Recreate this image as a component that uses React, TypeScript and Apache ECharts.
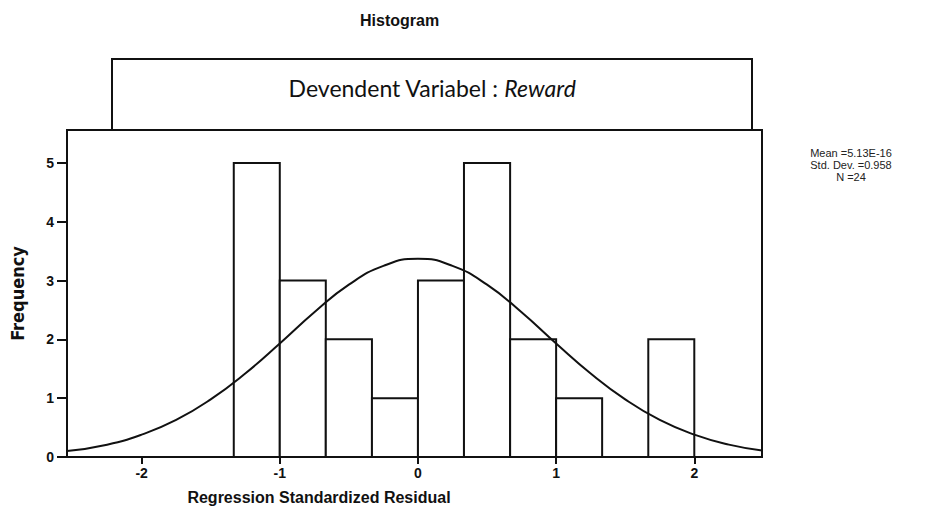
import React, { useEffect, useRef } from "react";
import * as echarts from "echarts";

// Histogram bins (lower edge, upper edge) and counts
const binStarts = [-1.333, -1, -0.667, -0.333, 0, 0.333, 0.667, 1, 1.333, 1.667];
const binEnds = [-1, -0.667, -0.333, 0, 0.333, 0.667, 1, 1.333, 1.667, 2];
const counts = [5, 3, 2, 1, 3, 5, 2, 1, 0, 2];

// Normal curve
const curveX = [-2.54, -2.25, -2, -1.75, -1.5, -1.25, -1, -0.75, -0.5, -0.25, 0, 0.25, 0.5, 0.75, 1, 1.25, 1.5, 1.75, 2, 2.25, 2.49];
const curveY = [0.1, 0.21, 0.38, 0.63, 0.98, 1.42, 1.93, 2.46, 2.93, 3.25, 3.37, 3.25, 2.93, 2.46, 1.93, 1.42, 0.98, 0.63, 0.38, 0.21, 0.11];

const xTicks = [-2, -1, 0, 1, 2];
const yTicks = [0, 1, 2, 3, 4, 5];

const statsLines = ["Mean =5.13E-16", "Std. Dev. =0.958", "N =24"];

export default function App() {
  const ref = useRef<HTMLDivElement>(null);
  useEffect(() => {
    if (!ref.current) return;
    const chart = echarts.init(ref.current, null, { renderer: "svg" });
    const histData = binStarts.map((s, i) => [s, binEnds[i], counts[i]]);
    const curveData = curveX.map((x, i) => [x, curveY[i]]);
    const font = "'Liberation Sans', Arial, sans-serif";
    chart.setOption({
      animation: false,
      backgroundColor: "#ffffff",
      grid: {
        left: 66,
        top: 130,
        width: 696,
        height: 327,
        show: true,
        borderColor: "#111",
        borderWidth: 2,
        backgroundColor: "transparent",
      },
      xAxis: {
        type: "value",
        min: -2.54,
        max: 2.49,
        splitLine: { show: false },
        axisLine: { show: true, onZero: false, lineStyle: { color: "#111", width: 2 } },
        axisTick: {
          show: true,
          customValues: xTicks,
          length: 7,
          lineStyle: { color: "#111", width: 2 },
        },
        axisLabel: {
          customValues: xTicks,
          color: "#111",
          fontFamily: font,
          fontWeight: "bold",
          fontSize: 14,
          margin: 9,
        },
      },
      yAxis: {
        type: "value",
        min: 0,
        max: 5.56,
        splitLine: { show: false },
        name: "Frequency",
        nameLocation: "middle",
        nameGap: 41,
        nameTextStyle: {
          color: "#111",
          fontFamily: "'Liberation Sans Narrow', 'DejaVu Sans Condensed', Arial, sans-serif",
          fontWeight: "bold",
          fontSize: 18,
        },
        axisLine: { show: true, onZero: false, lineStyle: { color: "#111", width: 2 } },
        axisTick: {
          show: true,
          customValues: yTicks,
          length: 10,
          lineStyle: { color: "#111", width: 2 },
        },
        axisLabel: {
          customValues: yTicks,
          color: "#111",
          fontFamily: font,
          fontWeight: "bold",
          fontSize: 14,
          margin: 13,
        },
      },
      graphic: [
        {
          type: "text",
          left: 360,
          top: 12,
          style: {
            text: "Histogram",
            fill: "#111",
            font: "bold 16px 'Liberation Sans', Arial, sans-serif",
          },
        },
        {
          type: "rect",
          shape: { x: 112, y: 59, width: 640, height: 71 },
          style: { fill: "#fff", stroke: "#111", lineWidth: 2 },
          z: 1,
        },
        {
          type: "text",
          x: 432,
          y: 88,
          z: 2,
          style: {
            text: "Devendent Variabel : {i|Reward}",
            align: "center",
            verticalAlign: "middle",
            fill: "#111",
            font: "23px Lato, 'Open Sans', sans-serif",
            rich: {
              i: {
                fontStyle: "italic",
                fontSize: 23,
                fontFamily: "Lato, 'Open Sans', sans-serif",
                fill: "#111",
              },
            },
          },
        },
        {
          type: "text",
          x: 851,
          y: 147,
          style: {
            text: statsLines.join("\n"),
            align: "center",
            verticalAlign: "top",
            lineHeight: 12,
            fill: "#222",
            font: "11px 'Liberation Sans', Arial, sans-serif",
          },
        },
        {
          type: "text",
          x: 319,
          y: 497,
          style: {
            text: "Regression Standardized Residual",
            align: "center",
            verticalAlign: "middle",
            fill: "#111",
            font: "bold 16px 'Liberation Sans', Arial, sans-serif",
          },
        },
      ],
      series: [
        {
          type: "custom",
          data: histData,
          encode: { x: [0, 1], y: 2 },
          z: 2,
          renderItem: (params: any, api: any) => {
            const x0 = api.value(0);
            const x1 = api.value(1);
            const y = api.value(2);
            if (!y) return null;
            const p0 = api.coord([x0, y]);
            const p1 = api.coord([x1, 0]);
            return {
              type: "rect",
              shape: { x: p0[0], y: p0[1], width: p1[0] - p0[0], height: p1[1] - p0[1] },
              style: { fill: "#fff", stroke: "#111", lineWidth: 2 },
            };
          },
        },
        {
          type: "line",
          data: curveData,
          smooth: true,
          showSymbol: false,
          symbol: "none",
          z: 5,
          lineStyle: { color: "#111", width: 2 },
        },
      ],
    });
    return () => chart.dispose();
  }, []);
  return (
    <div
      ref={ref}
      style={{ position: "fixed", left: 0, top: 0, width: 949, height: 511, background: "#fff" }}
    />
  );
}
